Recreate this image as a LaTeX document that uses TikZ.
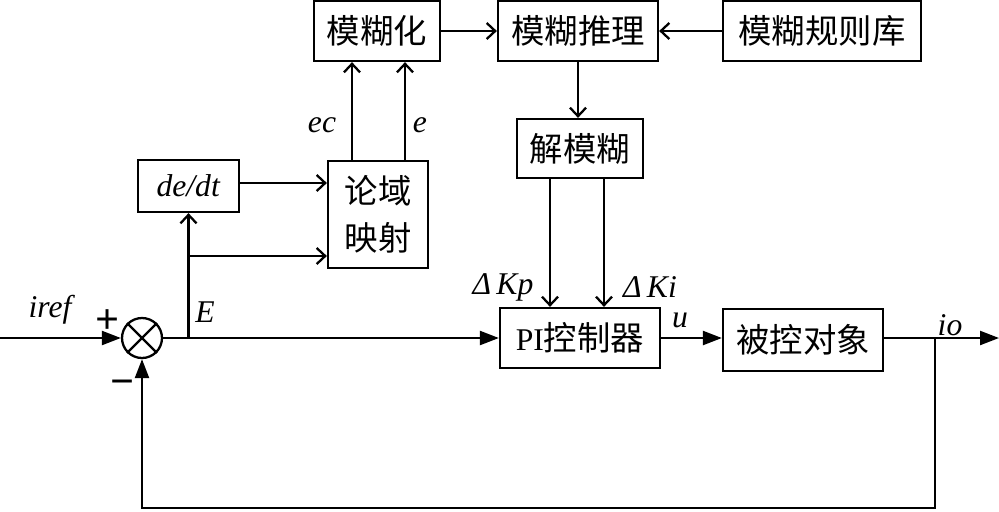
\documentclass[tikz,border=0pt]{standalone}
\usepackage{fontspec}
\setmainfont{Liberation Serif}
\newfontfamily\cjk{Noto Sans CJK SC}
\usetikzlibrary{arrows.meta,positioning,calc}
\newcommand{\zh}[1]{{\cjk\fontsize{19}{21}\selectfont #1}}

\begin{document}
\begin{tikzpicture}[x=0.02cm,y=-0.02cm,font=\fontsize{18}{21}\selectfont,line width=1.3pt,
 blk/.style={draw,line width=1.3pt,inner sep=0pt,align=center,minimum width=3.2cm,minimum height=1.2cm},
 sumc/.style={draw,circle,line width=1.3pt,minimum size=0.8cm,inner sep=0pt},
 farr/.style={-{Triangle[length=3.8mm,width=2.8mm]}},
 barb/.style={-{Straight Barb[length=1.7mm,width=3.2mm]}},
 lbl/.style={font=\itshape\fontsize{18}{21}\selectfont,inner sep=0pt},
 sgn/.style={font=\bfseries\fontsize{24}{24}\selectfont,inner sep=0pt}]
\useasboundingbox (0,0) rectangle (999,511);
% top row: fuzzy inference
\node[blk,minimum width=2.52cm] (fz) at (377,31) {\zh{模糊化}};
\node[blk] (inf) at (578,31) {\zh{模糊推理}};
\node[blk,minimum width=3.96cm] (rule) at (822,31) {\zh{模糊规则库}};
\node[blk,minimum width=2.52cm,minimum height=1.18cm] (dfz) at (580,148.5) {\zh{解模糊}};
\node[blk,minimum width=2.02cm,minimum height=1.04cm] (dedt) at (188.5,186) {\textit{de/dt}};
\node[blk,minimum width=2cm,minimum height=2.14cm,font=\fontsize{18}{27}\selectfont] (map) at (378,214.5) {\zh{论域}\\\zh{映射}};
% main loop
\node[sumc] (sum) at (142,338) {};
\draw (sum.north west) -- (sum.south east) (sum.north east) -- (sum.south west);
\node[blk] (pi) at (580,338) {PI\zh{控制器}};
\node[blk,minimum height=1.24cm] (plant) at (803,340) {\zh{被控对象}};
\coordinate (in) at (0,338);
\coordinate (out) at (999,338);
\coordinate (br) at (dedt.south |- sum.east);
\coordinate (tap) at (935,338);
\coordinate (fb) at (935,508);
% connectors
\draw[farr] (in) -- (sum.west);
\draw[farr] (sum.east) -- (pi.west);
\draw[barb] (br) -- (dedt.south);
\draw[barb] (br |- 0,256) -- (map.west |- 0,256);
\draw[barb] (dedt.east |- 0,183) -- (map.west |- 0,183);
\foreach \d in {-26,27}{\draw[barb] ([xshift=\d*0.02cm]map.north) -- ([xshift=\d*0.02cm]map.north |- fz.south);}
\draw[barb] (fz.east) -- (inf.west);
\draw[barb] (rule.west) -- (inf.east);
\draw[barb] (inf.south) -- (inf.south |- dfz.north);
\foreach \d in {-30,24}{\draw[barb] ([xshift=\d*0.02cm]dfz.south) -- ([xshift=\d*0.02cm]dfz.south |- pi.north);}
\draw[farr] (pi.east) -- (plant.west |- pi.east);
\draw[farr] (plant.east |- out) -- (out);
\draw[farr] (tap) -- (fb) -- (fb -| sum.south) -- (sum.south);
% labels
\node[lbl] at (50,310) {iref};
\node[sgn] at (108,322) {+};
\node[sgn] at (123,388) {−};
\node[lbl] at (205,312) {E};
\node[lbl] at (322,125) {ec};
\node[lbl] at (420,125) {e};
\node[lbl] at (503,287) {Δ\,Kp};
\node[lbl] at (650,287) {Δ\,Ki};
\node[lbl] at (680,320) {u};
\node[lbl] at (950,325) {io};
\end{tikzpicture}
\end{document}
